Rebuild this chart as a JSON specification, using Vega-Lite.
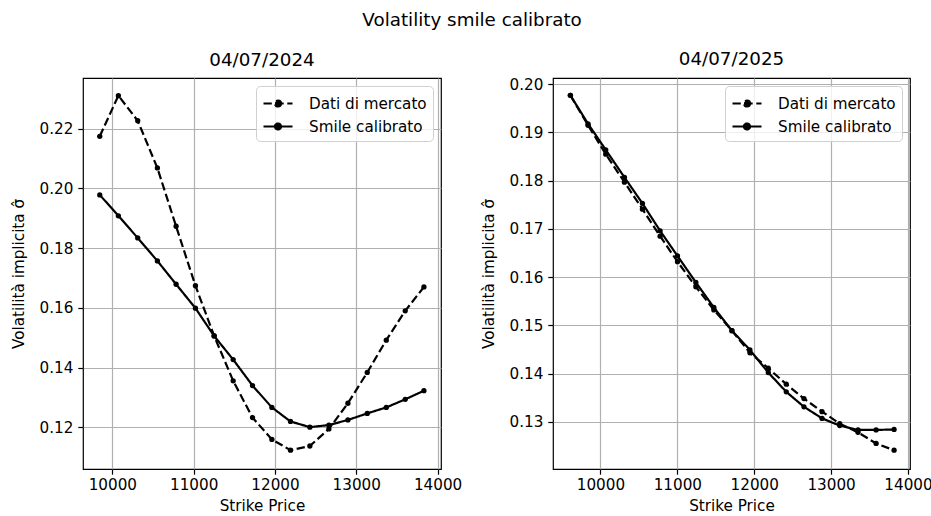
{
  "$schema": "https://vega.github.io/schema/vega-lite/v6.json",
  "background": "white",
  "padding": {"left": 11, "right": 2, "top": 11, "bottom": 2},
  "title": {"text": "Volatility smile calibrato", "fontSize": 18.3, "fontWeight": "normal", "font": "DejaVu Sans", "color": "black", "anchor": "middle", "offset": 19},
  "datasets": {
    "left": [
      {"strike": 9845, "series": "Dati di mercato", "vol": 0.2174},
      {"strike": 10074, "series": "Dati di mercato", "vol": 0.2310},
      {"strike": 10312, "series": "Dati di mercato", "vol": 0.2226},
      {"strike": 10554, "series": "Dati di mercato", "vol": 0.2068},
      {"strike": 10784, "series": "Dati di mercato", "vol": 0.1873},
      {"strike": 11022, "series": "Dati di mercato", "vol": 0.1674},
      {"strike": 11252, "series": "Dati di mercato", "vol": 0.1506},
      {"strike": 11486, "series": "Dati di mercato", "vol": 0.1356},
      {"strike": 11724, "series": "Dati di mercato", "vol": 0.1233},
      {"strike": 11962, "series": "Dati di mercato", "vol": 0.1160},
      {"strike": 12191, "series": "Dati di mercato", "vol": 0.1124},
      {"strike": 12429, "series": "Dati di mercato", "vol": 0.1138},
      {"strike": 12663, "series": "Dati di mercato", "vol": 0.1195},
      {"strike": 12897, "series": "Dati di mercato", "vol": 0.1281},
      {"strike": 13135, "series": "Dati di mercato", "vol": 0.1384},
      {"strike": 13369, "series": "Dati di mercato", "vol": 0.1492},
      {"strike": 13602, "series": "Dati di mercato", "vol": 0.1590},
      {"strike": 13832, "series": "Dati di mercato", "vol": 0.1670},
      {"strike": 9845, "series": "Smile calibrato", "vol": 0.1978},
      {"strike": 10074, "series": "Smile calibrato", "vol": 0.1908},
      {"strike": 10312, "series": "Smile calibrato", "vol": 0.1834},
      {"strike": 10554, "series": "Smile calibrato", "vol": 0.1757},
      {"strike": 10784, "series": "Smile calibrato", "vol": 0.1679},
      {"strike": 11022, "series": "Smile calibrato", "vol": 0.1599},
      {"strike": 11252, "series": "Smile calibrato", "vol": 0.1506},
      {"strike": 11486, "series": "Smile calibrato", "vol": 0.1427},
      {"strike": 11724, "series": "Smile calibrato", "vol": 0.1340},
      {"strike": 11962, "series": "Smile calibrato", "vol": 0.1267},
      {"strike": 12191, "series": "Smile calibrato", "vol": 0.1220},
      {"strike": 12429, "series": "Smile calibrato", "vol": 0.1201},
      {"strike": 12663, "series": "Smile calibrato", "vol": 0.1208},
      {"strike": 12897, "series": "Smile calibrato", "vol": 0.1225},
      {"strike": 13135, "series": "Smile calibrato", "vol": 0.1247},
      {"strike": 13369, "series": "Smile calibrato", "vol": 0.1267},
      {"strike": 13602, "series": "Smile calibrato", "vol": 0.1294},
      {"strike": 13832, "series": "Smile calibrato", "vol": 0.1323}
    ],
    "right": [
      {"strike": 9609, "series": "Dati di mercato", "vol": 0.1977},
      {"strike": 9839, "series": "Dati di mercato", "vol": 0.1915},
      {"strike": 10069, "series": "Dati di mercato", "vol": 0.1855},
      {"strike": 10312, "series": "Dati di mercato", "vol": 0.1797},
      {"strike": 10546, "series": "Dati di mercato", "vol": 0.1741},
      {"strike": 10776, "series": "Dati di mercato", "vol": 0.1685},
      {"strike": 11002, "series": "Dati di mercato", "vol": 0.1632},
      {"strike": 11241, "series": "Dati di mercato", "vol": 0.1580},
      {"strike": 11475, "series": "Dati di mercato", "vol": 0.1532},
      {"strike": 11710, "series": "Dati di mercato", "vol": 0.1489},
      {"strike": 11944, "series": "Dati di mercato", "vol": 0.1443},
      {"strike": 12183, "series": "Dati di mercato", "vol": 0.1411},
      {"strike": 12417, "series": "Dati di mercato", "vol": 0.1378},
      {"strike": 12647, "series": "Dati di mercato", "vol": 0.1348},
      {"strike": 12882, "series": "Dati di mercato", "vol": 0.1321},
      {"strike": 13112, "series": "Dati di mercato", "vol": 0.1296},
      {"strike": 13350, "series": "Dati di mercato", "vol": 0.1278},
      {"strike": 13585, "series": "Dati di mercato", "vol": 0.1255},
      {"strike": 13819, "series": "Dati di mercato", "vol": 0.1241},
      {"strike": 9609, "series": "Smile calibrato", "vol": 0.1977},
      {"strike": 9839, "series": "Smile calibrato", "vol": 0.1918},
      {"strike": 10069, "series": "Smile calibrato", "vol": 0.1864},
      {"strike": 10312, "series": "Smile calibrato", "vol": 0.1807},
      {"strike": 10546, "series": "Smile calibrato", "vol": 0.1753},
      {"strike": 10776, "series": "Smile calibrato", "vol": 0.1696},
      {"strike": 11002, "series": "Smile calibrato", "vol": 0.1644},
      {"strike": 11241, "series": "Smile calibrato", "vol": 0.1589},
      {"strike": 11475, "series": "Smile calibrato", "vol": 0.1537},
      {"strike": 11710, "series": "Smile calibrato", "vol": 0.1489},
      {"strike": 11944, "series": "Smile calibrato", "vol": 0.1449},
      {"strike": 12183, "series": "Smile calibrato", "vol": 0.1402},
      {"strike": 12417, "series": "Smile calibrato", "vol": 0.1362},
      {"strike": 12647, "series": "Smile calibrato", "vol": 0.1331},
      {"strike": 12882, "series": "Smile calibrato", "vol": 0.1307},
      {"strike": 13112, "series": "Smile calibrato", "vol": 0.1292},
      {"strike": 13350, "series": "Smile calibrato", "vol": 0.1283},
      {"strike": 13585, "series": "Smile calibrato", "vol": 0.1283},
      {"strike": 13819, "series": "Smile calibrato", "vol": 0.1284}
    ]
  },
  "config": {
    "font": "DejaVu Sans",
    "view": {"stroke": "black", "strokeWidth": 1.2},
    "axis": {
      "grid": true, "gridColor": "#b0b0b0", "gridWidth": 1.2,
      "domain": false,
      "tickColor": "black", "tickSize": 5.2, "tickWidth": 1.2,
      "labelFont": "DejaVu Sans", "labelFontSize": 15.2, "labelColor": "black", "labelPadding": 5,
      "titleFont": "DejaVu Sans", "titleFontSize": 15.2, "titleFontWeight": "normal", "titleColor": "black", "titlePadding": 5
    },
    "axisX": {"labelPadding": 3, "titlePadding": 6},
    "axisY": {"titlePadding": 12},
    "legend": {
      "orient": "top-right", "offset": 8,
      "fillColor": "rgba(255,255,255,0.8)", "strokeColor": "#d0d0d0", "cornerRadius": 4,
      "padding": 6,
      "labelFont": "DejaVu Sans", "labelFontSize": 15.2, "labelColor": "black",
      "symbolType": "M-1,0H1.9M0.75,0A0.3,0.3 0 1,1 0.15,0A0.3,0.3 0 1,1 0.75,0",
      "symbolSize": 400, "symbolStrokeWidth": 2.2, "symbolStrokeColor": "black", "symbolFillColor": "black",
      "labelOffset": 24, "rowPadding": 3
    },
    "title": {"font": "DejaVu Sans", "fontSize": 18.3, "fontWeight": "normal", "color": "black", "offset": 8}
  },
  "bounds": "flush",
  "spacing": 112,
  "resolve": {"scale": {"strokeDash": "independent"}, "legend": {"strokeDash": "independent"}},
  "hconcat": [
    {
      "width": 358, "height": 391,
      "title": "04/07/2024",
      "data": {"name": "left"},
      "mark": {"type": "line", "color": "black", "strokeWidth": 2.2, "point": {"filled": true, "size": 28, "color": "black"}},
      "encoding": {
        "x": {"field": "strike", "type": "quantitative", "scale": {"domain": [9639, 14042], "nice": false, "zero": false}, "axis": {"title": "Strike Price", "values": [10000, 11000, 12000, 13000, 14000], "format": "d"}},
        "y": {"field": "vol", "type": "quantitative", "scale": {"domain": [0.1061, 0.2369], "nice": false, "zero": false}, "axis": {"title": "Volatilità implicita σ̂", "values": [0.12, 0.14, 0.16, 0.18, 0.2, 0.22], "format": ".2f"}},
        "strokeDash": {"field": "series", "type": "nominal", "scale": {"domain": ["Dati di mercato", "Smile calibrato"], "range": [[8.3, 3.6], [1, 0]]}, "legend": {"title": null, "encode": {"symbols": {"update": {"stroke": {"value": "black"}, "strokeWidth": {"value": 2.2}, "fill": {"value": "black"}, "opacity": {"value": 1}}}}}}
      }
    },
    {
      "width": 357, "height": 391,
      "title": "04/07/2025",
      "data": {"name": "right"},
      "mark": {"type": "line", "color": "black", "strokeWidth": 2.2, "point": {"filled": true, "size": 28, "color": "black"}},
      "encoding": {
        "x": {"field": "strike", "type": "quantitative", "scale": {"domain": [9383, 14026], "nice": false, "zero": false}, "axis": {"title": "Strike Price", "values": [10000, 11000, 12000, 13000, 14000], "format": "d"}},
        "y": {"field": "vol", "type": "quantitative", "scale": {"domain": [0.1202, 0.2013], "nice": false, "zero": false}, "axis": {"title": "Volatilità implicita σ̂", "values": [0.13, 0.14, 0.15, 0.16, 0.17, 0.18, 0.19, 0.2], "format": ".2f"}},
        "strokeDash": {"field": "series", "type": "nominal", "scale": {"domain": ["Dati di mercato", "Smile calibrato"], "range": [[8.3, 3.6], [1, 0]]}, "legend": {"title": null, "encode": {"symbols": {"update": {"stroke": {"value": "black"}, "strokeWidth": {"value": 2.2}, "fill": {"value": "black"}, "opacity": {"value": 1}}}}}}
      }
    }
  ]
}
